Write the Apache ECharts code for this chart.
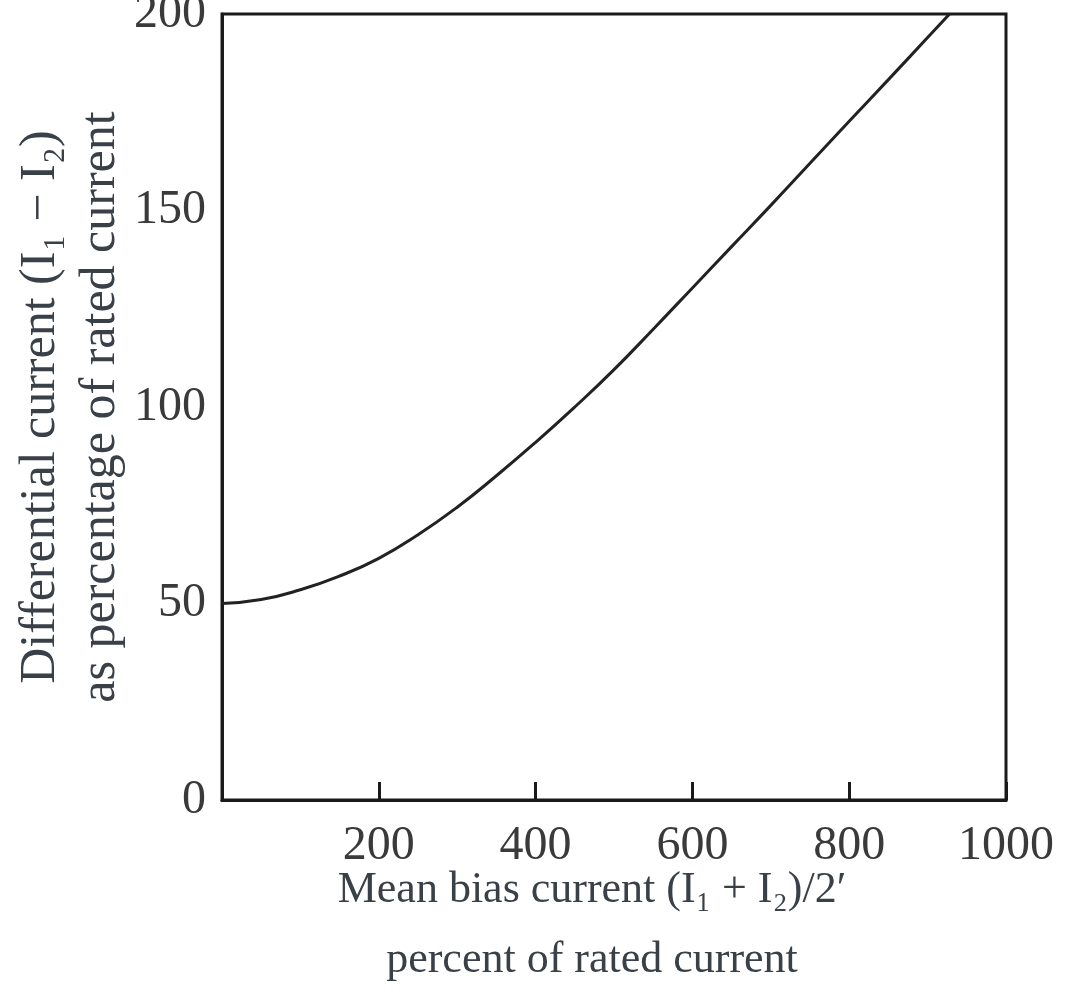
<!DOCTYPE html>
<html lang="en">
<head>
    <meta charset="UTF-8">
    <script src="https://cdn.jsdelivr.net/npm/echarts@6/dist/echarts.min.js"></script>
    <title>Bias characteristic</title>
    <style>
        html, body { margin: 0; padding: 0; background: #fff; }
        #chart { width: 1078px; height: 1003px; }
    </style>
</head>
<body>
<div id="chart"></div>
<script type="text/javascript">
    // mean bias current, % of rated
    var biasCurrent = [0, 50, 100, 150, 200, 250, 300, 350, 400, 450, 500, 550, 600, 650, 700, 750, 800, 850, 900, 928];
    // differential current, % of rated
    var diffCurrent = [50, 51, 53.5, 57, 61.5, 67.5, 74.5, 82.5, 91, 100, 109.5, 119.8, 130.3, 140.8, 151.3, 162, 172.7, 183.3, 194, 200];
    var xTicks = [0, 200, 400, 600, 800, 1000];
    var yTicks = [0, 50, 100, 150, 200];

    var pts = biasCurrent.map(function (x, i) { return [x, diffCurrent[i]]; });

    var serif = '"Liberation Serif", "DejaVu Serif", serif';
    var myChart = echarts.init(document.getElementById('chart'));
    var option = {
        animation: false,
        grid: {
            left: 222, right: 72, top: 14, bottom: 203,
            outerBoundsMode: 'none',
            containLabel: false,
            show: true,
            borderColor: '#1a1a1a',
            borderWidth: 3
        },
        xAxis: {
            type: 'value',
            min: xTicks[0],
            max: xTicks[xTicks.length - 1],
            interval: 200,
            splitLine: { show: false },
            axisLine: { lineStyle: { color: '#1a1a1a', width: 3 } },
            axisTick: { show: true, inside: true, length: 18, lineStyle: { color: '#1a1a1a', width: 3 } },
            axisLabel: {
                margin: 22,
                fontFamily: serif,
                fontSize: 48,
                color: '#3a3a3a',
                formatter: function (v) { return v === 0 ? '' : v; }
            },
            name: 'Mean bias current (I\u2081 + I\u2082)/2\u2032\npercent of rated current',
            nameLocation: 'middle',
            nameGap: 55,
            nameMoveOverlap: false,
            nameTextStyle: { fontFamily: serif, fontSize: 44, color: '#3a4048', lineHeight: 70, padding: [0, 44, 0, 0] }
        },
        yAxis: {
            type: 'value',
            min: yTicks[0],
            max: yTicks[yTicks.length - 1],
            interval: 50,
            splitLine: { show: false },
            axisLine: { lineStyle: { color: '#1a1a1a', width: 3 } },
            axisTick: { show: false },
            axisLabel: {
                margin: 16,
                fontFamily: serif,
                fontSize: 48,
                color: '#3a3a3a'
            },
            name: 'Differential current (I\u2081 \u2212 I\u2082)\nas percentage of rated current',
            nameLocation: 'middle',
            nameRotate: 90,
            nameGap: 91,
            nameMoveOverlap: false,
            nameTextStyle: { fontFamily: serif, fontSize: 50, color: '#3a4048', lineHeight: 60 }
        },
        series: [
            {
                type: 'line',
                data: pts,
                smooth: 0.5,
                showSymbol: false,
                clip: true,
                lineStyle: { color: '#222', width: 3 }
            }
        ]
    };
    myChart.setOption(option);
    window.onresize = myChart.resize;
</script>
</body>
</html>
